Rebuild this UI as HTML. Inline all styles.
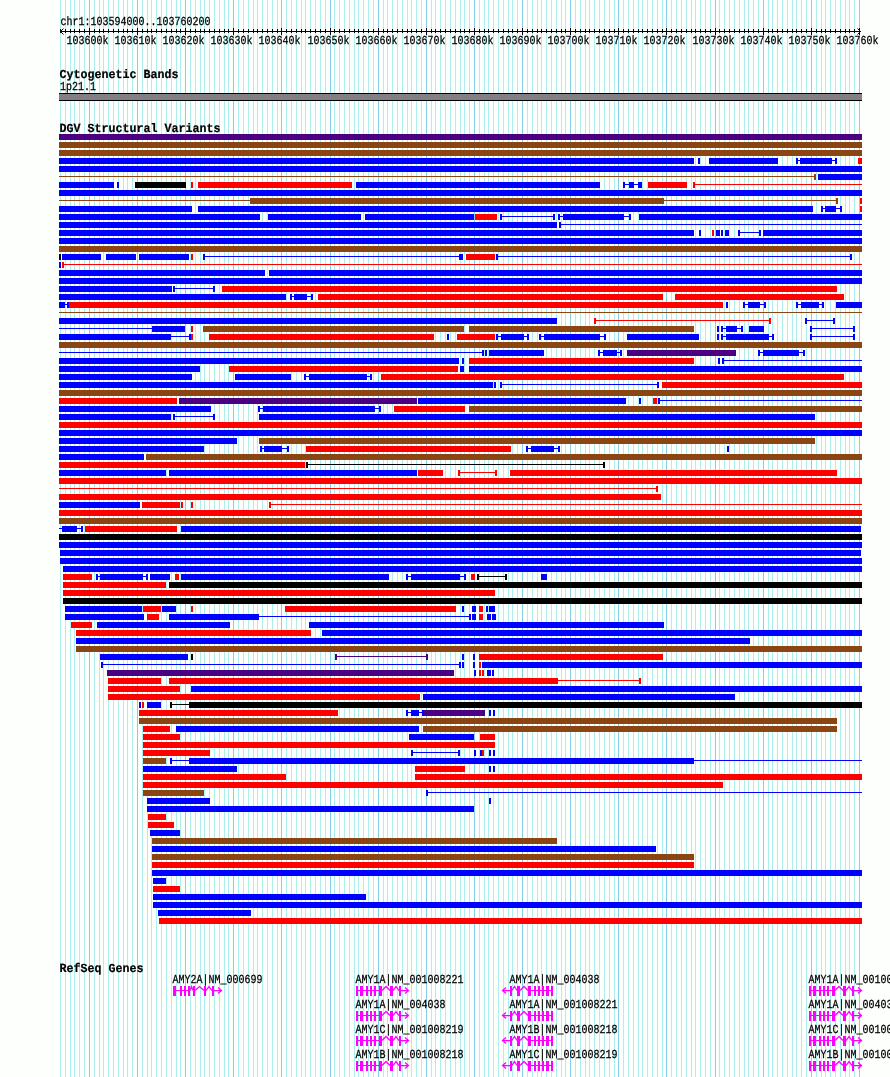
<!DOCTYPE html><html><head><meta charset="utf-8"><title>chr1:103594000..103760200</title>
<style>html,body{margin:0;padding:0;background:#fdfffd}svg{display:block}text{text-rendering:geometricPrecision}.s{font-family:"Liberation Mono",monospace;font-size:10px;fill:#000;stroke:#000;stroke-width:0.22px}.t{font-family:"Liberation Mono",monospace;font-size:11.67px;font-weight:bold;fill:#000;stroke:#000;stroke-width:0.2px}</style></head><body>
<svg width="890" height="1077" viewBox="0 0 890 1077" shape-rendering="crispEdges">
<rect width="890" height="1077" fill="#fdfffd"/>
<g><rect x="60" y="0" width="1" height="1077" fill="#afeeee"/><rect x="65" y="0" width="1" height="1077" fill="#afeeee"/><rect x="70" y="0" width="1" height="1077" fill="#afeeee"/><rect x="74" y="0" width="1" height="1077" fill="#afeeee"/><rect x="79" y="0" width="1" height="1077" fill="#afeeee"/><rect x="84" y="0" width="1" height="1077" fill="#afeeee"/><rect x="89" y="0" width="1" height="1077" fill="#87ceeb"/><rect x="94" y="0" width="1" height="1077" fill="#afeeee"/><rect x="99" y="0" width="1" height="1077" fill="#afeeee"/><rect x="103" y="0" width="1" height="1077" fill="#afeeee"/><rect x="108" y="0" width="1" height="1077" fill="#afeeee"/><rect x="113" y="0" width="1" height="1077" fill="#afeeee"/><rect x="118" y="0" width="1" height="1077" fill="#afeeee"/><rect x="123" y="0" width="1" height="1077" fill="#afeeee"/><rect x="127" y="0" width="1" height="1077" fill="#afeeee"/><rect x="132" y="0" width="1" height="1077" fill="#afeeee"/><rect x="137" y="0" width="1" height="1077" fill="#87ceeb"/><rect x="142" y="0" width="1" height="1077" fill="#afeeee"/><rect x="147" y="0" width="1" height="1077" fill="#afeeee"/><rect x="151" y="0" width="1" height="1077" fill="#afeeee"/><rect x="156" y="0" width="1" height="1077" fill="#afeeee"/><rect x="161" y="0" width="1" height="1077" fill="#afeeee"/><rect x="166" y="0" width="1" height="1077" fill="#afeeee"/><rect x="171" y="0" width="1" height="1077" fill="#afeeee"/><rect x="176" y="0" width="1" height="1077" fill="#afeeee"/><rect x="180" y="0" width="1" height="1077" fill="#afeeee"/><rect x="185" y="0" width="1" height="1077" fill="#87ceeb"/><rect x="190" y="0" width="1" height="1077" fill="#afeeee"/><rect x="195" y="0" width="1" height="1077" fill="#afeeee"/><rect x="200" y="0" width="1" height="1077" fill="#afeeee"/><rect x="204" y="0" width="1" height="1077" fill="#afeeee"/><rect x="209" y="0" width="1" height="1077" fill="#afeeee"/><rect x="214" y="0" width="1" height="1077" fill="#afeeee"/><rect x="219" y="0" width="1" height="1077" fill="#afeeee"/><rect x="224" y="0" width="1" height="1077" fill="#afeeee"/><rect x="228" y="0" width="1" height="1077" fill="#afeeee"/><rect x="233" y="0" width="1" height="1077" fill="#87ceeb"/><rect x="238" y="0" width="1" height="1077" fill="#afeeee"/><rect x="243" y="0" width="1" height="1077" fill="#afeeee"/><rect x="248" y="0" width="1" height="1077" fill="#afeeee"/><rect x="253" y="0" width="1" height="1077" fill="#afeeee"/><rect x="257" y="0" width="1" height="1077" fill="#afeeee"/><rect x="262" y="0" width="1" height="1077" fill="#afeeee"/><rect x="267" y="0" width="1" height="1077" fill="#afeeee"/><rect x="272" y="0" width="1" height="1077" fill="#afeeee"/><rect x="277" y="0" width="1" height="1077" fill="#afeeee"/><rect x="281" y="0" width="1" height="1077" fill="#87ceeb"/><rect x="286" y="0" width="1" height="1077" fill="#afeeee"/><rect x="291" y="0" width="1" height="1077" fill="#afeeee"/><rect x="296" y="0" width="1" height="1077" fill="#afeeee"/><rect x="301" y="0" width="1" height="1077" fill="#afeeee"/><rect x="305" y="0" width="1" height="1077" fill="#afeeee"/><rect x="310" y="0" width="1" height="1077" fill="#afeeee"/><rect x="315" y="0" width="1" height="1077" fill="#afeeee"/><rect x="320" y="0" width="1" height="1077" fill="#afeeee"/><rect x="325" y="0" width="1" height="1077" fill="#afeeee"/><rect x="330" y="0" width="1" height="1077" fill="#87ceeb"/><rect x="334" y="0" width="1" height="1077" fill="#afeeee"/><rect x="339" y="0" width="1" height="1077" fill="#afeeee"/><rect x="344" y="0" width="1" height="1077" fill="#afeeee"/><rect x="349" y="0" width="1" height="1077" fill="#afeeee"/><rect x="354" y="0" width="1" height="1077" fill="#afeeee"/><rect x="358" y="0" width="1" height="1077" fill="#afeeee"/><rect x="363" y="0" width="1" height="1077" fill="#afeeee"/><rect x="368" y="0" width="1" height="1077" fill="#afeeee"/><rect x="373" y="0" width="1" height="1077" fill="#afeeee"/><rect x="378" y="0" width="1" height="1077" fill="#87ceeb"/><rect x="383" y="0" width="1" height="1077" fill="#afeeee"/><rect x="387" y="0" width="1" height="1077" fill="#afeeee"/><rect x="392" y="0" width="1" height="1077" fill="#afeeee"/><rect x="397" y="0" width="1" height="1077" fill="#afeeee"/><rect x="402" y="0" width="1" height="1077" fill="#afeeee"/><rect x="407" y="0" width="1" height="1077" fill="#afeeee"/><rect x="411" y="0" width="1" height="1077" fill="#afeeee"/><rect x="416" y="0" width="1" height="1077" fill="#afeeee"/><rect x="421" y="0" width="1" height="1077" fill="#afeeee"/><rect x="426" y="0" width="1" height="1077" fill="#87ceeb"/><rect x="431" y="0" width="1" height="1077" fill="#afeeee"/><rect x="435" y="0" width="1" height="1077" fill="#afeeee"/><rect x="440" y="0" width="1" height="1077" fill="#afeeee"/><rect x="445" y="0" width="1" height="1077" fill="#afeeee"/><rect x="450" y="0" width="1" height="1077" fill="#afeeee"/><rect x="455" y="0" width="1" height="1077" fill="#afeeee"/><rect x="460" y="0" width="1" height="1077" fill="#afeeee"/><rect x="464" y="0" width="1" height="1077" fill="#afeeee"/><rect x="469" y="0" width="1" height="1077" fill="#afeeee"/><rect x="474" y="0" width="1" height="1077" fill="#87ceeb"/><rect x="479" y="0" width="1" height="1077" fill="#afeeee"/><rect x="484" y="0" width="1" height="1077" fill="#afeeee"/><rect x="488" y="0" width="1" height="1077" fill="#afeeee"/><rect x="493" y="0" width="1" height="1077" fill="#afeeee"/><rect x="498" y="0" width="1" height="1077" fill="#afeeee"/><rect x="503" y="0" width="1" height="1077" fill="#afeeee"/><rect x="508" y="0" width="1" height="1077" fill="#afeeee"/><rect x="512" y="0" width="1" height="1077" fill="#afeeee"/><rect x="517" y="0" width="1" height="1077" fill="#afeeee"/><rect x="522" y="0" width="1" height="1077" fill="#87ceeb"/><rect x="527" y="0" width="1" height="1077" fill="#afeeee"/><rect x="532" y="0" width="1" height="1077" fill="#afeeee"/><rect x="537" y="0" width="1" height="1077" fill="#afeeee"/><rect x="541" y="0" width="1" height="1077" fill="#afeeee"/><rect x="546" y="0" width="1" height="1077" fill="#afeeee"/><rect x="551" y="0" width="1" height="1077" fill="#afeeee"/><rect x="556" y="0" width="1" height="1077" fill="#afeeee"/><rect x="561" y="0" width="1" height="1077" fill="#afeeee"/><rect x="565" y="0" width="1" height="1077" fill="#afeeee"/><rect x="570" y="0" width="1" height="1077" fill="#87ceeb"/><rect x="575" y="0" width="1" height="1077" fill="#afeeee"/><rect x="580" y="0" width="1" height="1077" fill="#afeeee"/><rect x="585" y="0" width="1" height="1077" fill="#afeeee"/><rect x="589" y="0" width="1" height="1077" fill="#afeeee"/><rect x="594" y="0" width="1" height="1077" fill="#afeeee"/><rect x="599" y="0" width="1" height="1077" fill="#afeeee"/><rect x="604" y="0" width="1" height="1077" fill="#afeeee"/><rect x="609" y="0" width="1" height="1077" fill="#afeeee"/><rect x="614" y="0" width="1" height="1077" fill="#afeeee"/><rect x="618" y="0" width="1" height="1077" fill="#87ceeb"/><rect x="623" y="0" width="1" height="1077" fill="#afeeee"/><rect x="628" y="0" width="1" height="1077" fill="#afeeee"/><rect x="633" y="0" width="1" height="1077" fill="#afeeee"/><rect x="638" y="0" width="1" height="1077" fill="#afeeee"/><rect x="642" y="0" width="1" height="1077" fill="#afeeee"/><rect x="647" y="0" width="1" height="1077" fill="#afeeee"/><rect x="652" y="0" width="1" height="1077" fill="#afeeee"/><rect x="657" y="0" width="1" height="1077" fill="#afeeee"/><rect x="662" y="0" width="1" height="1077" fill="#afeeee"/><rect x="666" y="0" width="1" height="1077" fill="#87ceeb"/><rect x="671" y="0" width="1" height="1077" fill="#afeeee"/><rect x="676" y="0" width="1" height="1077" fill="#afeeee"/><rect x="681" y="0" width="1" height="1077" fill="#afeeee"/><rect x="686" y="0" width="1" height="1077" fill="#afeeee"/><rect x="691" y="0" width="1" height="1077" fill="#afeeee"/><rect x="695" y="0" width="1" height="1077" fill="#afeeee"/><rect x="700" y="0" width="1" height="1077" fill="#afeeee"/><rect x="705" y="0" width="1" height="1077" fill="#afeeee"/><rect x="710" y="0" width="1" height="1077" fill="#afeeee"/><rect x="715" y="0" width="1" height="1077" fill="#87ceeb"/><rect x="719" y="0" width="1" height="1077" fill="#afeeee"/><rect x="724" y="0" width="1" height="1077" fill="#afeeee"/><rect x="729" y="0" width="1" height="1077" fill="#afeeee"/><rect x="734" y="0" width="1" height="1077" fill="#afeeee"/><rect x="739" y="0" width="1" height="1077" fill="#afeeee"/><rect x="744" y="0" width="1" height="1077" fill="#afeeee"/><rect x="748" y="0" width="1" height="1077" fill="#afeeee"/><rect x="753" y="0" width="1" height="1077" fill="#afeeee"/><rect x="758" y="0" width="1" height="1077" fill="#afeeee"/><rect x="763" y="0" width="1" height="1077" fill="#87ceeb"/><rect x="768" y="0" width="1" height="1077" fill="#afeeee"/><rect x="772" y="0" width="1" height="1077" fill="#afeeee"/><rect x="777" y="0" width="1" height="1077" fill="#afeeee"/><rect x="782" y="0" width="1" height="1077" fill="#afeeee"/><rect x="787" y="0" width="1" height="1077" fill="#afeeee"/><rect x="792" y="0" width="1" height="1077" fill="#afeeee"/><rect x="796" y="0" width="1" height="1077" fill="#afeeee"/><rect x="801" y="0" width="1" height="1077" fill="#afeeee"/><rect x="806" y="0" width="1" height="1077" fill="#afeeee"/><rect x="811" y="0" width="1" height="1077" fill="#87ceeb"/><rect x="816" y="0" width="1" height="1077" fill="#afeeee"/><rect x="821" y="0" width="1" height="1077" fill="#afeeee"/><rect x="825" y="0" width="1" height="1077" fill="#afeeee"/><rect x="830" y="0" width="1" height="1077" fill="#afeeee"/><rect x="835" y="0" width="1" height="1077" fill="#afeeee"/><rect x="840" y="0" width="1" height="1077" fill="#afeeee"/><rect x="845" y="0" width="1" height="1077" fill="#afeeee"/><rect x="849" y="0" width="1" height="1077" fill="#afeeee"/><rect x="854" y="0" width="1" height="1077" fill="#afeeee"/><rect x="859" y="0" width="1" height="1077" fill="#87ceeb"/></g>
<g fill="#000">
<rect x="60" y="31" width="801" height="1"/>
<rect x="60" y="29" width="1" height="4"/>
<rect x="65" y="29" width="1" height="4"/>
<rect x="70" y="29" width="1" height="4"/>
<rect x="74" y="29" width="1" height="4"/>
<rect x="79" y="29" width="1" height="4"/>
<rect x="84" y="29" width="1" height="4"/>
<rect x="89" y="28" width="1" height="7"/>
<rect x="94" y="29" width="1" height="4"/>
<rect x="99" y="29" width="1" height="4"/>
<rect x="103" y="29" width="1" height="4"/>
<rect x="108" y="29" width="1" height="4"/>
<rect x="113" y="29" width="1" height="4"/>
<rect x="118" y="29" width="1" height="4"/>
<rect x="123" y="29" width="1" height="4"/>
<rect x="127" y="29" width="1" height="4"/>
<rect x="132" y="29" width="1" height="4"/>
<rect x="137" y="28" width="1" height="7"/>
<rect x="142" y="29" width="1" height="4"/>
<rect x="147" y="29" width="1" height="4"/>
<rect x="151" y="29" width="1" height="4"/>
<rect x="156" y="29" width="1" height="4"/>
<rect x="161" y="29" width="1" height="4"/>
<rect x="166" y="29" width="1" height="4"/>
<rect x="171" y="29" width="1" height="4"/>
<rect x="176" y="29" width="1" height="4"/>
<rect x="180" y="29" width="1" height="4"/>
<rect x="185" y="28" width="1" height="7"/>
<rect x="190" y="29" width="1" height="4"/>
<rect x="195" y="29" width="1" height="4"/>
<rect x="200" y="29" width="1" height="4"/>
<rect x="204" y="29" width="1" height="4"/>
<rect x="209" y="29" width="1" height="4"/>
<rect x="214" y="29" width="1" height="4"/>
<rect x="219" y="29" width="1" height="4"/>
<rect x="224" y="29" width="1" height="4"/>
<rect x="228" y="29" width="1" height="4"/>
<rect x="233" y="28" width="1" height="7"/>
<rect x="238" y="29" width="1" height="4"/>
<rect x="243" y="29" width="1" height="4"/>
<rect x="248" y="29" width="1" height="4"/>
<rect x="253" y="29" width="1" height="4"/>
<rect x="257" y="29" width="1" height="4"/>
<rect x="262" y="29" width="1" height="4"/>
<rect x="267" y="29" width="1" height="4"/>
<rect x="272" y="29" width="1" height="4"/>
<rect x="277" y="29" width="1" height="4"/>
<rect x="281" y="28" width="1" height="7"/>
<rect x="286" y="29" width="1" height="4"/>
<rect x="291" y="29" width="1" height="4"/>
<rect x="296" y="29" width="1" height="4"/>
<rect x="301" y="29" width="1" height="4"/>
<rect x="305" y="29" width="1" height="4"/>
<rect x="310" y="29" width="1" height="4"/>
<rect x="315" y="29" width="1" height="4"/>
<rect x="320" y="29" width="1" height="4"/>
<rect x="325" y="29" width="1" height="4"/>
<rect x="330" y="28" width="1" height="7"/>
<rect x="334" y="29" width="1" height="4"/>
<rect x="339" y="29" width="1" height="4"/>
<rect x="344" y="29" width="1" height="4"/>
<rect x="349" y="29" width="1" height="4"/>
<rect x="354" y="29" width="1" height="4"/>
<rect x="358" y="29" width="1" height="4"/>
<rect x="363" y="29" width="1" height="4"/>
<rect x="368" y="29" width="1" height="4"/>
<rect x="373" y="29" width="1" height="4"/>
<rect x="378" y="28" width="1" height="7"/>
<rect x="383" y="29" width="1" height="4"/>
<rect x="387" y="29" width="1" height="4"/>
<rect x="392" y="29" width="1" height="4"/>
<rect x="397" y="29" width="1" height="4"/>
<rect x="402" y="29" width="1" height="4"/>
<rect x="407" y="29" width="1" height="4"/>
<rect x="411" y="29" width="1" height="4"/>
<rect x="416" y="29" width="1" height="4"/>
<rect x="421" y="29" width="1" height="4"/>
<rect x="426" y="28" width="1" height="7"/>
<rect x="431" y="29" width="1" height="4"/>
<rect x="435" y="29" width="1" height="4"/>
<rect x="440" y="29" width="1" height="4"/>
<rect x="445" y="29" width="1" height="4"/>
<rect x="450" y="29" width="1" height="4"/>
<rect x="455" y="29" width="1" height="4"/>
<rect x="460" y="29" width="1" height="4"/>
<rect x="464" y="29" width="1" height="4"/>
<rect x="469" y="29" width="1" height="4"/>
<rect x="474" y="28" width="1" height="7"/>
<rect x="479" y="29" width="1" height="4"/>
<rect x="484" y="29" width="1" height="4"/>
<rect x="488" y="29" width="1" height="4"/>
<rect x="493" y="29" width="1" height="4"/>
<rect x="498" y="29" width="1" height="4"/>
<rect x="503" y="29" width="1" height="4"/>
<rect x="508" y="29" width="1" height="4"/>
<rect x="512" y="29" width="1" height="4"/>
<rect x="517" y="29" width="1" height="4"/>
<rect x="522" y="28" width="1" height="7"/>
<rect x="527" y="29" width="1" height="4"/>
<rect x="532" y="29" width="1" height="4"/>
<rect x="537" y="29" width="1" height="4"/>
<rect x="541" y="29" width="1" height="4"/>
<rect x="546" y="29" width="1" height="4"/>
<rect x="551" y="29" width="1" height="4"/>
<rect x="556" y="29" width="1" height="4"/>
<rect x="561" y="29" width="1" height="4"/>
<rect x="565" y="29" width="1" height="4"/>
<rect x="570" y="28" width="1" height="7"/>
<rect x="575" y="29" width="1" height="4"/>
<rect x="580" y="29" width="1" height="4"/>
<rect x="585" y="29" width="1" height="4"/>
<rect x="589" y="29" width="1" height="4"/>
<rect x="594" y="29" width="1" height="4"/>
<rect x="599" y="29" width="1" height="4"/>
<rect x="604" y="29" width="1" height="4"/>
<rect x="609" y="29" width="1" height="4"/>
<rect x="614" y="29" width="1" height="4"/>
<rect x="618" y="28" width="1" height="7"/>
<rect x="623" y="29" width="1" height="4"/>
<rect x="628" y="29" width="1" height="4"/>
<rect x="633" y="29" width="1" height="4"/>
<rect x="638" y="29" width="1" height="4"/>
<rect x="642" y="29" width="1" height="4"/>
<rect x="647" y="29" width="1" height="4"/>
<rect x="652" y="29" width="1" height="4"/>
<rect x="657" y="29" width="1" height="4"/>
<rect x="662" y="29" width="1" height="4"/>
<rect x="666" y="28" width="1" height="7"/>
<rect x="671" y="29" width="1" height="4"/>
<rect x="676" y="29" width="1" height="4"/>
<rect x="681" y="29" width="1" height="4"/>
<rect x="686" y="29" width="1" height="4"/>
<rect x="691" y="29" width="1" height="4"/>
<rect x="695" y="29" width="1" height="4"/>
<rect x="700" y="29" width="1" height="4"/>
<rect x="705" y="29" width="1" height="4"/>
<rect x="710" y="29" width="1" height="4"/>
<rect x="715" y="28" width="1" height="7"/>
<rect x="719" y="29" width="1" height="4"/>
<rect x="724" y="29" width="1" height="4"/>
<rect x="729" y="29" width="1" height="4"/>
<rect x="734" y="29" width="1" height="4"/>
<rect x="739" y="29" width="1" height="4"/>
<rect x="744" y="29" width="1" height="4"/>
<rect x="748" y="29" width="1" height="4"/>
<rect x="753" y="29" width="1" height="4"/>
<rect x="758" y="29" width="1" height="4"/>
<rect x="763" y="28" width="1" height="7"/>
<rect x="768" y="29" width="1" height="4"/>
<rect x="772" y="29" width="1" height="4"/>
<rect x="777" y="29" width="1" height="4"/>
<rect x="782" y="29" width="1" height="4"/>
<rect x="787" y="29" width="1" height="4"/>
<rect x="792" y="29" width="1" height="4"/>
<rect x="796" y="29" width="1" height="4"/>
<rect x="801" y="29" width="1" height="4"/>
<rect x="806" y="29" width="1" height="4"/>
<rect x="811" y="28" width="1" height="7"/>
<rect x="816" y="29" width="1" height="4"/>
<rect x="821" y="29" width="1" height="4"/>
<rect x="825" y="29" width="1" height="4"/>
<rect x="830" y="29" width="1" height="4"/>
<rect x="835" y="29" width="1" height="4"/>
<rect x="840" y="29" width="1" height="4"/>
<rect x="845" y="29" width="1" height="4"/>
<rect x="849" y="29" width="1" height="4"/>
<rect x="854" y="29" width="1" height="4"/>
<rect x="859" y="28" width="1" height="7"/>
</g>
<g stroke="#000" stroke-width="1" fill="none" shape-rendering="auto"><path d="M63.5 28.5L60.5 31.5L63.5 34.5"/><path d="M857.5 28.5L860.5 31.5L857.5 34.5"/></g>
<text class="s" transform="translate(60.5 25) scale(1 1.22)" xml:space="preserve">chr1:103594000..103760200</text>
<text class="s" transform="translate(66.5 44) scale(1 1.22)" xml:space="preserve">103600k</text>
<text class="s" transform="translate(114.5 44) scale(1 1.22)" xml:space="preserve">103610k</text>
<text class="s" transform="translate(162.5 44) scale(1 1.22)" xml:space="preserve">103620k</text>
<text class="s" transform="translate(210.5 44) scale(1 1.22)" xml:space="preserve">103630k</text>
<text class="s" transform="translate(258.5 44) scale(1 1.22)" xml:space="preserve">103640k</text>
<text class="s" transform="translate(307.5 44) scale(1 1.22)" xml:space="preserve">103650k</text>
<text class="s" transform="translate(355.5 44) scale(1 1.22)" xml:space="preserve">103660k</text>
<text class="s" transform="translate(403.5 44) scale(1 1.22)" xml:space="preserve">103670k</text>
<text class="s" transform="translate(451.5 44) scale(1 1.22)" xml:space="preserve">103680k</text>
<text class="s" transform="translate(499.5 44) scale(1 1.22)" xml:space="preserve">103690k</text>
<text class="s" transform="translate(547.5 44) scale(1 1.22)" xml:space="preserve">103700k</text>
<text class="s" transform="translate(595.5 44) scale(1 1.22)" xml:space="preserve">103710k</text>
<text class="s" transform="translate(643.5 44) scale(1 1.22)" xml:space="preserve">103720k</text>
<text class="s" transform="translate(692.5 44) scale(1 1.22)" xml:space="preserve">103730k</text>
<text class="s" transform="translate(740.5 44) scale(1 1.22)" xml:space="preserve">103740k</text>
<text class="s" transform="translate(788.5 44) scale(1 1.22)" xml:space="preserve">103750k</text>
<text class="s" transform="translate(836.5 44) scale(1 1.22)" xml:space="preserve">103760k</text>
<text class="t" transform="translate(59.5 78) scale(1 1.06)" xml:space="preserve">Cytogenetic Bands</text>
<text class="s" transform="translate(60.0 90) scale(1 1.22)" xml:space="preserve">1p21.1</text>
<rect x="59" y="93" width="803" height="8" fill="#000"/><rect x="59" y="94" width="803" height="6" fill="#828082"/>
<text class="t" transform="translate(59.5 132) scale(1 1.06)" xml:space="preserve">DGV Structural Variants</text>
<rect x="59" y="134" width="803" height="6" fill="#4b0082"/>
<rect x="59" y="142" width="803" height="6" fill="#8b4513"/>
<rect x="59" y="150" width="803" height="6" fill="#8b4513"/>
<rect x="798" y="160" width="38" height="1" fill="#0000ff"/>
<rect x="59" y="158" width="635" height="6" fill="#0000ff"/>
<rect x="698" y="158" width="2" height="6" fill="#0000ff"/>
<rect x="709" y="158" width="69" height="6" fill="#0000ff"/>
<rect x="796" y="158" width="2" height="6" fill="#0000ff"/>
<rect x="800" y="158" width="32" height="6" fill="#0000ff"/>
<rect x="835" y="158" width="2" height="6" fill="#0000ff"/>
<rect x="858" y="158" width="4" height="6" fill="#ff0000"/>
<rect x="59" y="166" width="803" height="6" fill="#0000ff"/>
<rect x="59" y="176" width="756" height="1" fill="#8b4513"/>
<rect x="814" y="174" width="2" height="6" fill="#8b4513"/>
<rect x="818" y="174" width="44" height="6" fill="#0000ff"/>
<rect x="624" y="184" width="16" height="1" fill="#0000ff"/>
<rect x="694" y="184" width="168" height="1" fill="#ff0000"/>
<rect x="59" y="182" width="55" height="6" fill="#0000ff"/>
<rect x="117" y="182" width="2" height="6" fill="#0000ff"/>
<rect x="135" y="182" width="51" height="6" fill="#000000"/>
<rect x="191" y="182" width="2" height="6" fill="#ff0000"/>
<rect x="198" y="182" width="154" height="6" fill="#ff0000"/>
<rect x="356" y="182" width="244" height="6" fill="#0000ff"/>
<rect x="623" y="182" width="2" height="6" fill="#0000ff"/>
<rect x="629" y="182" width="5" height="6" fill="#0000ff"/>
<rect x="638" y="182" width="4" height="6" fill="#0000ff"/>
<rect x="648" y="182" width="39" height="6" fill="#ff0000"/>
<rect x="693" y="182" width="2" height="6" fill="#ff0000"/>
<rect x="59" y="190" width="803" height="6" fill="#0000ff"/>
<rect x="59" y="200" width="191" height="1" fill="#8b4513"/>
<rect x="664" y="200" width="173" height="1" fill="#8b4513"/>
<rect x="250" y="198" width="414" height="6" fill="#8b4513"/>
<rect x="836" y="198" width="2" height="6" fill="#8b4513"/>
<rect x="860" y="198" width="2" height="6" fill="#ff0000"/>
<rect x="822" y="208" width="19" height="1" fill="#0000ff"/>
<rect x="59" y="206" width="133" height="6" fill="#0000ff"/>
<rect x="198" y="206" width="615" height="6" fill="#0000ff"/>
<rect x="821" y="206" width="2" height="6" fill="#0000ff"/>
<rect x="825" y="206" width="11" height="6" fill="#0000ff"/>
<rect x="840" y="206" width="2" height="6" fill="#0000ff"/>
<rect x="860" y="206" width="2" height="6" fill="#ff0000"/>
<rect x="501" y="216" width="53" height="1" fill="#0000ff"/>
<rect x="559" y="216" width="71" height="1" fill="#0000ff"/>
<rect x="59" y="214" width="201" height="6" fill="#0000ff"/>
<rect x="268" y="214" width="93" height="6" fill="#0000ff"/>
<rect x="365" y="214" width="109" height="6" fill="#0000ff"/>
<rect x="475" y="214" width="22" height="6" fill="#ff0000"/>
<rect x="500" y="214" width="2" height="6" fill="#0000ff"/>
<rect x="553" y="214" width="2" height="6" fill="#0000ff"/>
<rect x="558" y="214" width="2" height="6" fill="#0000ff"/>
<rect x="563" y="214" width="61" height="6" fill="#0000ff"/>
<rect x="629" y="214" width="2" height="6" fill="#0000ff"/>
<rect x="639" y="214" width="223" height="6" fill="#0000ff"/>
<rect x="560" y="224" width="302" height="1" fill="#0000ff"/>
<rect x="59" y="222" width="498" height="6" fill="#0000ff"/>
<rect x="559" y="222" width="2" height="6" fill="#0000ff"/>
<rect x="739" y="232" width="21" height="1" fill="#0000ff"/>
<rect x="59" y="230" width="635" height="6" fill="#0000ff"/>
<rect x="699" y="230" width="2" height="6" fill="#0000ff"/>
<rect x="712" y="230" width="2" height="6" fill="#ff0000"/>
<rect x="716" y="230" width="4" height="6" fill="#0000ff"/>
<rect x="721" y="230" width="2" height="6" fill="#0000ff"/>
<rect x="725" y="230" width="4" height="6" fill="#0000ff"/>
<rect x="738" y="230" width="2" height="6" fill="#0000ff"/>
<rect x="759" y="230" width="2" height="6" fill="#0000ff"/>
<rect x="763" y="230" width="99" height="6" fill="#0000ff"/>
<rect x="59" y="238" width="803" height="6" fill="#0000ff"/>
<rect x="59" y="246" width="803" height="6" fill="#8b4513"/>
<rect x="204" y="256" width="256" height="1" fill="#0000ff"/>
<rect x="497" y="256" width="354" height="1" fill="#0000ff"/>
<rect x="59" y="254" width="2" height="6" fill="#000000"/>
<rect x="62" y="254" width="39" height="6" fill="#0000ff"/>
<rect x="106" y="254" width="30" height="6" fill="#0000ff"/>
<rect x="139" y="254" width="50" height="6" fill="#0000ff"/>
<rect x="191" y="254" width="2" height="6" fill="#ff0000"/>
<rect x="203" y="254" width="2" height="6" fill="#0000ff"/>
<rect x="459" y="254" width="4" height="6" fill="#0000ff"/>
<rect x="466" y="254" width="29" height="6" fill="#ff0000"/>
<rect x="496" y="254" width="2" height="6" fill="#0000ff"/>
<rect x="850" y="254" width="2" height="6" fill="#0000ff"/>
<rect x="63" y="264" width="799" height="1" fill="#ff0000"/>
<rect x="59" y="262" width="2" height="6" fill="#0000ff"/>
<rect x="62" y="262" width="2" height="6" fill="#ff0000"/>
<rect x="59" y="270" width="206" height="6" fill="#0000ff"/>
<rect x="269" y="270" width="593" height="6" fill="#0000ff"/>
<rect x="59" y="278" width="803" height="6" fill="#0000ff"/>
<rect x="174" y="288" width="40" height="1" fill="#0000ff"/>
<rect x="59" y="286" width="113" height="6" fill="#0000ff"/>
<rect x="173" y="286" width="2" height="6" fill="#0000ff"/>
<rect x="213" y="286" width="2" height="6" fill="#0000ff"/>
<rect x="222" y="286" width="615" height="6" fill="#ff0000"/>
<rect x="291" y="296" width="21" height="1" fill="#0000ff"/>
<rect x="59" y="294" width="227" height="6" fill="#0000ff"/>
<rect x="290" y="294" width="2" height="6" fill="#0000ff"/>
<rect x="294" y="294" width="13" height="6" fill="#0000ff"/>
<rect x="311" y="294" width="2" height="6" fill="#0000ff"/>
<rect x="318" y="294" width="345" height="6" fill="#ff0000"/>
<rect x="675" y="294" width="169" height="6" fill="#ff0000"/>
<rect x="65" y="304" width="3" height="1" fill="#0000ff"/>
<rect x="744" y="304" width="21" height="1" fill="#0000ff"/>
<rect x="797" y="304" width="26" height="1" fill="#0000ff"/>
<rect x="59" y="302" width="6" height="6" fill="#0000ff"/>
<rect x="67" y="302" width="2" height="6" fill="#0000ff"/>
<rect x="69" y="302" width="654" height="6" fill="#ff0000"/>
<rect x="726" y="302" width="2" height="6" fill="#0000ff"/>
<rect x="743" y="302" width="2" height="6" fill="#0000ff"/>
<rect x="748" y="302" width="12" height="6" fill="#0000ff"/>
<rect x="764" y="302" width="2" height="6" fill="#0000ff"/>
<rect x="796" y="302" width="2" height="6" fill="#0000ff"/>
<rect x="801" y="302" width="18" height="6" fill="#0000ff"/>
<rect x="822" y="302" width="2" height="6" fill="#0000ff"/>
<rect x="836" y="302" width="26" height="6" fill="#0000ff"/>
<rect x="59" y="312" width="803" height="1" fill="#8b4513"/>
<rect x="595" y="320" width="175" height="1" fill="#ff0000"/>
<rect x="806" y="320" width="28" height="1" fill="#0000ff"/>
<rect x="59" y="318" width="498" height="6" fill="#0000ff"/>
<rect x="594" y="318" width="2" height="6" fill="#ff0000"/>
<rect x="769" y="318" width="2" height="6" fill="#ff0000"/>
<rect x="805" y="318" width="2" height="6" fill="#0000ff"/>
<rect x="833" y="318" width="2" height="6" fill="#0000ff"/>
<rect x="59" y="328" width="93" height="1" fill="#0000ff"/>
<rect x="722" y="328" width="20" height="1" fill="#0000ff"/>
<rect x="811" y="328" width="43" height="1" fill="#0000ff"/>
<rect x="152" y="326" width="33" height="6" fill="#0000ff"/>
<rect x="191" y="326" width="2" height="6" fill="#ff0000"/>
<rect x="203" y="326" width="261" height="6" fill="#8b4513"/>
<rect x="469" y="326" width="225" height="6" fill="#8b4513"/>
<rect x="717" y="326" width="2" height="6" fill="#0000ff"/>
<rect x="721" y="326" width="2" height="6" fill="#0000ff"/>
<rect x="726" y="326" width="11" height="6" fill="#0000ff"/>
<rect x="741" y="326" width="2" height="6" fill="#0000ff"/>
<rect x="749" y="326" width="15" height="6" fill="#0000ff"/>
<rect x="810" y="326" width="2" height="6" fill="#0000ff"/>
<rect x="853" y="326" width="2" height="6" fill="#0000ff"/>
<rect x="171" y="336" width="19" height="1" fill="#0000ff"/>
<rect x="497" y="336" width="31" height="1" fill="#0000ff"/>
<rect x="540" y="336" width="65" height="1" fill="#0000ff"/>
<rect x="722" y="336" width="51" height="1" fill="#0000ff"/>
<rect x="811" y="336" width="43" height="1" fill="#0000ff"/>
<rect x="59" y="334" width="112" height="6" fill="#0000ff"/>
<rect x="189" y="334" width="2" height="6" fill="#0000ff"/>
<rect x="191" y="334" width="2" height="6" fill="#ff0000"/>
<rect x="209" y="334" width="225" height="6" fill="#ff0000"/>
<rect x="447" y="334" width="2" height="6" fill="#0000ff"/>
<rect x="457" y="334" width="38" height="6" fill="#ff0000"/>
<rect x="496" y="334" width="2" height="6" fill="#0000ff"/>
<rect x="501" y="334" width="23" height="6" fill="#0000ff"/>
<rect x="527" y="334" width="2" height="6" fill="#0000ff"/>
<rect x="539" y="334" width="2" height="6" fill="#0000ff"/>
<rect x="544" y="334" width="56" height="6" fill="#0000ff"/>
<rect x="604" y="334" width="2" height="6" fill="#0000ff"/>
<rect x="627" y="334" width="72" height="6" fill="#0000ff"/>
<rect x="717" y="334" width="2" height="6" fill="#0000ff"/>
<rect x="721" y="334" width="2" height="6" fill="#0000ff"/>
<rect x="726" y="334" width="43" height="6" fill="#0000ff"/>
<rect x="772" y="334" width="2" height="6" fill="#0000ff"/>
<rect x="810" y="334" width="2" height="6" fill="#0000ff"/>
<rect x="853" y="334" width="2" height="6" fill="#0000ff"/>
<rect x="59" y="342" width="803" height="6" fill="#8b4513"/>
<rect x="59" y="352" width="424" height="1" fill="#0000ff"/>
<rect x="599" y="352" width="22" height="1" fill="#0000ff"/>
<rect x="759" y="352" width="45" height="1" fill="#0000ff"/>
<rect x="482" y="350" width="2" height="6" fill="#0000ff"/>
<rect x="485" y="350" width="2" height="6" fill="#0000ff"/>
<rect x="489" y="350" width="55" height="6" fill="#0000ff"/>
<rect x="598" y="350" width="2" height="6" fill="#0000ff"/>
<rect x="603" y="350" width="14" height="6" fill="#0000ff"/>
<rect x="620" y="350" width="2" height="6" fill="#0000ff"/>
<rect x="627" y="350" width="109" height="6" fill="#4b0082"/>
<rect x="758" y="350" width="2" height="6" fill="#0000ff"/>
<rect x="763" y="350" width="36" height="6" fill="#0000ff"/>
<rect x="803" y="350" width="2" height="6" fill="#0000ff"/>
<rect x="723" y="360" width="139" height="1" fill="#0000ff"/>
<rect x="59" y="358" width="400" height="6" fill="#0000ff"/>
<rect x="462" y="358" width="2" height="6" fill="#0000ff"/>
<rect x="469" y="358" width="225" height="6" fill="#ff0000"/>
<rect x="718" y="358" width="2" height="6" fill="#0000ff"/>
<rect x="722" y="358" width="2" height="6" fill="#0000ff"/>
<rect x="59" y="366" width="141" height="6" fill="#0000ff"/>
<rect x="229" y="366" width="229" height="6" fill="#ff0000"/>
<rect x="460" y="366" width="4" height="6" fill="#0000ff"/>
<rect x="469" y="366" width="393" height="6" fill="#0000ff"/>
<rect x="305" y="376" width="66" height="1" fill="#0000ff"/>
<rect x="59" y="374" width="133" height="6" fill="#0000ff"/>
<rect x="235" y="374" width="56" height="6" fill="#0000ff"/>
<rect x="304" y="374" width="2" height="6" fill="#0000ff"/>
<rect x="309" y="374" width="58" height="6" fill="#0000ff"/>
<rect x="370" y="374" width="2" height="6" fill="#0000ff"/>
<rect x="381" y="374" width="463" height="6" fill="#ff0000"/>
<rect x="501" y="384" width="157" height="1" fill="#0000ff"/>
<rect x="59" y="382" width="434" height="6" fill="#0000ff"/>
<rect x="494" y="382" width="2" height="6" fill="#0000ff"/>
<rect x="500" y="382" width="2" height="6" fill="#0000ff"/>
<rect x="657" y="382" width="2" height="6" fill="#0000ff"/>
<rect x="662" y="382" width="200" height="6" fill="#ff0000"/>
<rect x="59" y="390" width="803" height="6" fill="#8b4513"/>
<rect x="659" y="400" width="203" height="1" fill="#0000ff"/>
<rect x="59" y="398" width="118" height="6" fill="#ff0000"/>
<rect x="179" y="398" width="238" height="6" fill="#4b0082"/>
<rect x="418" y="398" width="208" height="6" fill="#0000ff"/>
<rect x="639" y="398" width="2" height="6" fill="#0000ff"/>
<rect x="653" y="398" width="4" height="6" fill="#ff0000"/>
<rect x="658" y="398" width="2" height="6" fill="#0000ff"/>
<rect x="259" y="408" width="121" height="1" fill="#0000ff"/>
<rect x="59" y="406" width="152" height="6" fill="#0000ff"/>
<rect x="258" y="406" width="2" height="6" fill="#0000ff"/>
<rect x="263" y="406" width="112" height="6" fill="#0000ff"/>
<rect x="379" y="406" width="2" height="6" fill="#0000ff"/>
<rect x="394" y="406" width="71" height="6" fill="#ff0000"/>
<rect x="469" y="406" width="393" height="6" fill="#8b4513"/>
<rect x="174" y="416" width="40" height="1" fill="#0000ff"/>
<rect x="59" y="414" width="112" height="6" fill="#0000ff"/>
<rect x="173" y="414" width="2" height="6" fill="#0000ff"/>
<rect x="213" y="414" width="2" height="6" fill="#0000ff"/>
<rect x="259" y="414" width="556" height="6" fill="#0000ff"/>
<rect x="59" y="422" width="803" height="6" fill="#ff0000"/>
<rect x="59" y="430" width="803" height="6" fill="#0000ff"/>
<rect x="59" y="438" width="178" height="6" fill="#0000ff"/>
<rect x="259" y="438" width="556" height="6" fill="#8b4513"/>
<rect x="261" y="448" width="27" height="1" fill="#0000ff"/>
<rect x="527" y="448" width="32" height="1" fill="#0000ff"/>
<rect x="59" y="446" width="145" height="6" fill="#0000ff"/>
<rect x="260" y="446" width="2" height="6" fill="#0000ff"/>
<rect x="264" y="446" width="18" height="6" fill="#0000ff"/>
<rect x="287" y="446" width="2" height="6" fill="#0000ff"/>
<rect x="306" y="446" width="205" height="6" fill="#ff0000"/>
<rect x="526" y="446" width="2" height="6" fill="#0000ff"/>
<rect x="531" y="446" width="23" height="6" fill="#0000ff"/>
<rect x="558" y="446" width="2" height="6" fill="#0000ff"/>
<rect x="727" y="446" width="2" height="6" fill="#0000ff"/>
<rect x="59" y="454" width="85" height="6" fill="#0000ff"/>
<rect x="146" y="454" width="716" height="6" fill="#8b4513"/>
<rect x="307" y="464" width="297" height="1" fill="#000000"/>
<rect x="59" y="462" width="246" height="6" fill="#ff0000"/>
<rect x="306" y="462" width="2" height="6" fill="#000000"/>
<rect x="603" y="462" width="2" height="6" fill="#000000"/>
<rect x="459" y="472" width="37" height="1" fill="#ff0000"/>
<rect x="59" y="470" width="107" height="6" fill="#0000ff"/>
<rect x="169" y="470" width="248" height="6" fill="#0000ff"/>
<rect x="418" y="470" width="25" height="6" fill="#ff0000"/>
<rect x="458" y="470" width="2" height="6" fill="#ff0000"/>
<rect x="495" y="470" width="2" height="6" fill="#ff0000"/>
<rect x="510" y="470" width="327" height="6" fill="#ff0000"/>
<rect x="59" y="478" width="803" height="6" fill="#ff0000"/>
<rect x="59" y="488" width="598" height="1" fill="#ff0000"/>
<rect x="656" y="486" width="2" height="6" fill="#ff0000"/>
<rect x="59" y="494" width="602" height="6" fill="#ff0000"/>
<rect x="270" y="504" width="592" height="1" fill="#ff0000"/>
<rect x="59" y="502" width="81" height="6" fill="#0000ff"/>
<rect x="142" y="502" width="38" height="6" fill="#ff0000"/>
<rect x="181" y="502" width="2" height="6" fill="#ff0000"/>
<rect x="191" y="502" width="2" height="6" fill="#ff0000"/>
<rect x="269" y="502" width="2" height="6" fill="#ff0000"/>
<rect x="59" y="510" width="803" height="6" fill="#ff0000"/>
<rect x="59" y="518" width="803" height="6" fill="#8b4513"/>
<rect x="59" y="528" width="23" height="1" fill="#0000ff"/>
<rect x="62" y="526" width="15" height="6" fill="#0000ff"/>
<rect x="81" y="526" width="2" height="6" fill="#0000ff"/>
<rect x="85" y="526" width="92" height="6" fill="#ff0000"/>
<rect x="181" y="526" width="680" height="6" fill="#0000ff"/>
<rect x="59" y="534" width="803" height="6" fill="#000000"/>
<rect x="59" y="542" width="803" height="6" fill="#0000ff"/>
<rect x="60" y="550" width="801" height="6" fill="#0000ff"/>
<rect x="60" y="558" width="802" height="6" fill="#0000ff"/>
<rect x="63" y="566" width="799" height="6" fill="#0000ff"/>
<rect x="97" y="576" width="50" height="1" fill="#0000ff"/>
<rect x="407" y="576" width="58" height="1" fill="#0000ff"/>
<rect x="478" y="576" width="28" height="1" fill="#000000"/>
<rect x="63" y="574" width="29" height="6" fill="#ff0000"/>
<rect x="96" y="574" width="2" height="6" fill="#0000ff"/>
<rect x="100" y="574" width="43" height="6" fill="#0000ff"/>
<rect x="146" y="574" width="2" height="6" fill="#0000ff"/>
<rect x="150" y="574" width="20" height="6" fill="#0000ff"/>
<rect x="175" y="574" width="4" height="6" fill="#ff0000"/>
<rect x="181" y="574" width="208" height="6" fill="#0000ff"/>
<rect x="406" y="574" width="2" height="6" fill="#0000ff"/>
<rect x="411" y="574" width="49" height="6" fill="#0000ff"/>
<rect x="464" y="574" width="2" height="6" fill="#0000ff"/>
<rect x="471" y="574" width="4" height="6" fill="#ff0000"/>
<rect x="477" y="574" width="2" height="6" fill="#000000"/>
<rect x="505" y="574" width="2" height="6" fill="#000000"/>
<rect x="541" y="574" width="6" height="6" fill="#0000ff"/>
<rect x="63" y="582" width="103" height="6" fill="#ff0000"/>
<rect x="169" y="582" width="693" height="6" fill="#000000"/>
<rect x="63" y="590" width="432" height="6" fill="#ff0000"/>
<rect x="63" y="598" width="799" height="6" fill="#000000"/>
<rect x="65" y="606" width="77" height="6" fill="#0000ff"/>
<rect x="143" y="606" width="18" height="6" fill="#ff0000"/>
<rect x="162" y="606" width="14" height="6" fill="#0000ff"/>
<rect x="191" y="606" width="2" height="6" fill="#ff0000"/>
<rect x="285" y="606" width="171" height="6" fill="#ff0000"/>
<rect x="462" y="606" width="2" height="6" fill="#0000ff"/>
<rect x="472" y="606" width="4" height="6" fill="#0000ff"/>
<rect x="479" y="606" width="4" height="6" fill="#ff0000"/>
<rect x="486" y="606" width="2" height="6" fill="#0000ff"/>
<rect x="489" y="606" width="6" height="6" fill="#0000ff"/>
<rect x="259" y="616" width="211" height="1" fill="#0000ff"/>
<rect x="65" y="614" width="79" height="6" fill="#0000ff"/>
<rect x="147" y="614" width="12" height="6" fill="#ff0000"/>
<rect x="169" y="614" width="90" height="6" fill="#0000ff"/>
<rect x="469" y="614" width="2" height="6" fill="#0000ff"/>
<rect x="472" y="614" width="4" height="6" fill="#0000ff"/>
<rect x="479" y="614" width="4" height="6" fill="#ff0000"/>
<rect x="487" y="614" width="4" height="6" fill="#0000ff"/>
<rect x="492" y="614" width="4" height="6" fill="#0000ff"/>
<rect x="71" y="622" width="21" height="6" fill="#ff0000"/>
<rect x="97" y="622" width="133" height="6" fill="#0000ff"/>
<rect x="309" y="622" width="355" height="6" fill="#0000ff"/>
<rect x="76" y="630" width="235" height="6" fill="#ff0000"/>
<rect x="322" y="630" width="540" height="6" fill="#0000ff"/>
<rect x="76" y="638" width="674" height="6" fill="#0000ff"/>
<rect x="76" y="646" width="786" height="6" fill="#8b4513"/>
<rect x="336" y="656" width="91" height="1" fill="#4b0082"/>
<rect x="100" y="654" width="88" height="6" fill="#0000ff"/>
<rect x="191" y="654" width="2" height="6" fill="#000000"/>
<rect x="335" y="654" width="2" height="6" fill="#4b0082"/>
<rect x="426" y="654" width="2" height="6" fill="#4b0082"/>
<rect x="462" y="654" width="2" height="6" fill="#0000ff"/>
<rect x="473" y="654" width="2" height="6" fill="#0000ff"/>
<rect x="479" y="654" width="184" height="6" fill="#ff0000"/>
<rect x="102" y="664" width="358" height="1" fill="#0000ff"/>
<rect x="101" y="662" width="2" height="6" fill="#0000ff"/>
<rect x="459" y="662" width="2" height="6" fill="#0000ff"/>
<rect x="462" y="662" width="2" height="6" fill="#0000ff"/>
<rect x="473" y="662" width="2" height="6" fill="#0000ff"/>
<rect x="479" y="662" width="2" height="6" fill="#ff0000"/>
<rect x="482" y="662" width="380" height="6" fill="#0000ff"/>
<rect x="107" y="670" width="347" height="6" fill="#4b0082"/>
<rect x="474" y="670" width="2" height="6" fill="#0000ff"/>
<rect x="479" y="670" width="2" height="6" fill="#ff0000"/>
<rect x="482" y="670" width="2" height="6" fill="#ff0000"/>
<rect x="487" y="670" width="4" height="6" fill="#0000ff"/>
<rect x="492" y="670" width="2" height="6" fill="#0000ff"/>
<rect x="558" y="680" width="82" height="1" fill="#ff0000"/>
<rect x="108" y="678" width="53" height="6" fill="#ff0000"/>
<rect x="169" y="678" width="389" height="6" fill="#ff0000"/>
<rect x="639" y="678" width="2" height="6" fill="#ff0000"/>
<rect x="108" y="686" width="72" height="6" fill="#ff0000"/>
<rect x="191" y="686" width="671" height="6" fill="#0000ff"/>
<rect x="108" y="694" width="312" height="6" fill="#ff0000"/>
<rect x="423" y="694" width="312" height="6" fill="#0000ff"/>
<rect x="171" y="704" width="18" height="1" fill="#000000"/>
<rect x="139" y="702" width="2" height="6" fill="#0000ff"/>
<rect x="142" y="702" width="2" height="6" fill="#ff0000"/>
<rect x="147" y="702" width="14" height="6" fill="#0000ff"/>
<rect x="170" y="702" width="2" height="6" fill="#000000"/>
<rect x="189" y="702" width="673" height="6" fill="#000000"/>
<rect x="407" y="712" width="17" height="1" fill="#0000ff"/>
<rect x="139" y="710" width="199" height="6" fill="#ff0000"/>
<rect x="406" y="710" width="2" height="6" fill="#0000ff"/>
<rect x="411" y="710" width="8" height="6" fill="#0000ff"/>
<rect x="422" y="710" width="2" height="6" fill="#0000ff"/>
<rect x="424" y="710" width="61" height="6" fill="#4b0082"/>
<rect x="489" y="710" width="2" height="6" fill="#0000ff"/>
<rect x="493" y="710" width="2" height="6" fill="#0000ff"/>
<rect x="139" y="718" width="698" height="6" fill="#8b4513"/>
<rect x="143" y="726" width="27" height="6" fill="#ff0000"/>
<rect x="176" y="726" width="243" height="6" fill="#0000ff"/>
<rect x="423" y="726" width="414" height="6" fill="#8b4513"/>
<rect x="143" y="734" width="37" height="6" fill="#ff0000"/>
<rect x="409" y="734" width="65" height="6" fill="#0000ff"/>
<rect x="480" y="734" width="15" height="6" fill="#ff0000"/>
<rect x="143" y="742" width="352" height="6" fill="#ff0000"/>
<rect x="412" y="752" width="47" height="1" fill="#0000ff"/>
<rect x="143" y="750" width="67" height="6" fill="#ff0000"/>
<rect x="411" y="750" width="2" height="6" fill="#0000ff"/>
<rect x="458" y="750" width="2" height="6" fill="#0000ff"/>
<rect x="474" y="750" width="2" height="6" fill="#0000ff"/>
<rect x="480" y="750" width="2" height="6" fill="#0000ff"/>
<rect x="482" y="750" width="2" height="6" fill="#ff0000"/>
<rect x="489" y="750" width="2" height="6" fill="#0000ff"/>
<rect x="493" y="750" width="2" height="6" fill="#0000ff"/>
<rect x="171" y="760" width="18" height="1" fill="#0000ff"/>
<rect x="694" y="760" width="168" height="1" fill="#0000ff"/>
<rect x="143" y="758" width="23" height="6" fill="#8b4513"/>
<rect x="170" y="758" width="2" height="6" fill="#0000ff"/>
<rect x="189" y="758" width="505" height="6" fill="#0000ff"/>
<rect x="143" y="766" width="94" height="6" fill="#0000ff"/>
<rect x="415" y="766" width="50" height="6" fill="#ff0000"/>
<rect x="489" y="766" width="2" height="6" fill="#0000ff"/>
<rect x="493" y="766" width="2" height="6" fill="#0000ff"/>
<rect x="143" y="774" width="143" height="6" fill="#ff0000"/>
<rect x="415" y="774" width="447" height="6" fill="#ff0000"/>
<rect x="143" y="782" width="580" height="6" fill="#ff0000"/>
<rect x="427" y="792" width="435" height="1" fill="#0000ff"/>
<rect x="143" y="790" width="61" height="6" fill="#8b4513"/>
<rect x="426" y="790" width="2" height="6" fill="#0000ff"/>
<rect x="147" y="798" width="63" height="6" fill="#0000ff"/>
<rect x="489" y="798" width="2" height="6" fill="#0000ff"/>
<rect x="147" y="806" width="327" height="6" fill="#0000ff"/>
<rect x="148" y="814" width="18" height="6" fill="#ff0000"/>
<rect x="148" y="822" width="26" height="6" fill="#ff0000"/>
<rect x="150" y="830" width="30" height="6" fill="#0000ff"/>
<rect x="152" y="838" width="405" height="6" fill="#8b4513"/>
<rect x="152" y="846" width="504" height="6" fill="#0000ff"/>
<rect x="152" y="854" width="542" height="6" fill="#8b4513"/>
<rect x="152" y="862" width="542" height="6" fill="#ff0000"/>
<rect x="152" y="870" width="710" height="6" fill="#0000ff"/>
<rect x="153" y="878" width="13" height="6" fill="#0000ff"/>
<rect x="153" y="886" width="27" height="6" fill="#ff0000"/>
<rect x="153" y="894" width="213" height="6" fill="#0000ff"/>
<rect x="153" y="902" width="709" height="6" fill="#0000ff"/>
<rect x="158" y="910" width="93" height="6" fill="#0000ff"/>
<rect x="159" y="918" width="703" height="6" fill="#ff0000"/>
<text class="t" transform="translate(59.5 972) scale(1 1.06)" xml:space="preserve">RefSeq Genes</text>
<text class="s" transform="translate(172.5 983) scale(1 1.22)" xml:space="preserve">AMY2A|NM_000699</text>
<rect x="173" y="990" width="16" height="1" fill="#ff00ff"/>
<rect x="173" y="986" width="3" height="10" fill="#ff00ff"/>
<rect x="180" y="986" width="2" height="10" fill="#ff00ff"/>
<rect x="184" y="986" width="2" height="10" fill="#ff00ff"/>
<rect x="188" y="986" width="2" height="10" fill="#ff00ff"/>
<rect x="193" y="986" width="2" height="10" fill="#ff00ff"/>
<rect x="204" y="986" width="2" height="10" fill="#ff00ff"/>
<rect x="212" y="986" width="2" height="10" fill="#ff00ff"/>
<g stroke="#ff00ff" stroke-width="1.25" fill="none" shape-rendering="auto"><path d="M190 990.5L191.5 986.5L193 990.5M195 990.5L199.5 986.5L204 990.5M206 990.5L209 986.5L212 990.5M214 990.5L221.5 990.5M218 987.5L221.5 990.5L218 993.5"/></g>
<text class="s" transform="translate(355.5 983) scale(1 1.22)" xml:space="preserve">AMY1A|NM_001008221</text>
<rect x="356" y="990" width="26" height="1" fill="#ff00ff"/>
<rect x="356" y="986" width="2" height="10" fill="#ff00ff"/>
<rect x="360" y="986" width="3" height="10" fill="#ff00ff"/>
<rect x="366" y="986" width="2" height="10" fill="#ff00ff"/>
<rect x="370" y="986" width="2" height="10" fill="#ff00ff"/>
<rect x="374" y="986" width="2" height="10" fill="#ff00ff"/>
<rect x="379" y="986" width="3" height="10" fill="#ff00ff"/>
<rect x="390" y="986" width="3" height="10" fill="#ff00ff"/>
<rect x="399" y="986" width="2" height="10" fill="#ff00ff"/>
<g stroke="#ff00ff" stroke-width="1.25" fill="none" shape-rendering="auto"><path d="M382 990.5L386 986.5L390 990.5M393 990.5L396 986.5L399 990.5M401 990.5L408.5 990.5M405 987.5L408.5 990.5L405 993.5"/></g>
<text class="s" transform="translate(808.5 983) scale(1 1.22)" xml:space="preserve">AMY1A|NM_001008221</text>
<rect x="809" y="990" width="26" height="1" fill="#ff00ff"/>
<rect x="809" y="986" width="2" height="10" fill="#ff00ff"/>
<rect x="813" y="986" width="3" height="10" fill="#ff00ff"/>
<rect x="819" y="986" width="2" height="10" fill="#ff00ff"/>
<rect x="823" y="986" width="2" height="10" fill="#ff00ff"/>
<rect x="827" y="986" width="2" height="10" fill="#ff00ff"/>
<rect x="832" y="986" width="3" height="10" fill="#ff00ff"/>
<rect x="843" y="986" width="3" height="10" fill="#ff00ff"/>
<rect x="852" y="986" width="2" height="10" fill="#ff00ff"/>
<g stroke="#ff00ff" stroke-width="1.25" fill="none" shape-rendering="auto"><path d="M835 990.5L839 986.5L843 990.5M846 990.5L849 986.5L852 990.5M854 990.5L861.5 990.5M858 987.5L861.5 990.5L858 993.5"/></g>
<text class="s" transform="translate(355.5 1008) scale(1 1.22)" xml:space="preserve">AMY1A|NM_004038</text>
<rect x="356" y="1015" width="26" height="1" fill="#ff00ff"/>
<rect x="356" y="1011" width="2" height="10" fill="#ff00ff"/>
<rect x="360" y="1011" width="3" height="10" fill="#ff00ff"/>
<rect x="366" y="1011" width="2" height="10" fill="#ff00ff"/>
<rect x="370" y="1011" width="2" height="10" fill="#ff00ff"/>
<rect x="374" y="1011" width="2" height="10" fill="#ff00ff"/>
<rect x="379" y="1011" width="3" height="10" fill="#ff00ff"/>
<rect x="390" y="1011" width="3" height="10" fill="#ff00ff"/>
<rect x="399" y="1011" width="2" height="10" fill="#ff00ff"/>
<g stroke="#ff00ff" stroke-width="1.25" fill="none" shape-rendering="auto"><path d="M382 1015.5L386 1011.5L390 1015.5M393 1015.5L396 1011.5L399 1015.5M401 1015.5L408.5 1015.5M405 1012.5L408.5 1015.5L405 1018.5"/></g>
<text class="s" transform="translate(808.5 1008) scale(1 1.22)" xml:space="preserve">AMY1A|NM_004038</text>
<rect x="809" y="1015" width="26" height="1" fill="#ff00ff"/>
<rect x="809" y="1011" width="2" height="10" fill="#ff00ff"/>
<rect x="813" y="1011" width="3" height="10" fill="#ff00ff"/>
<rect x="819" y="1011" width="2" height="10" fill="#ff00ff"/>
<rect x="823" y="1011" width="2" height="10" fill="#ff00ff"/>
<rect x="827" y="1011" width="2" height="10" fill="#ff00ff"/>
<rect x="832" y="1011" width="3" height="10" fill="#ff00ff"/>
<rect x="843" y="1011" width="3" height="10" fill="#ff00ff"/>
<rect x="852" y="1011" width="2" height="10" fill="#ff00ff"/>
<g stroke="#ff00ff" stroke-width="1.25" fill="none" shape-rendering="auto"><path d="M835 1015.5L839 1011.5L843 1015.5M846 1015.5L849 1011.5L852 1015.5M854 1015.5L861.5 1015.5M858 1012.5L861.5 1015.5L858 1018.5"/></g>
<text class="s" transform="translate(355.5 1033) scale(1 1.22)" xml:space="preserve">AMY1C|NM_001008219</text>
<rect x="356" y="1040" width="26" height="1" fill="#ff00ff"/>
<rect x="356" y="1036" width="2" height="10" fill="#ff00ff"/>
<rect x="360" y="1036" width="3" height="10" fill="#ff00ff"/>
<rect x="366" y="1036" width="2" height="10" fill="#ff00ff"/>
<rect x="370" y="1036" width="2" height="10" fill="#ff00ff"/>
<rect x="374" y="1036" width="2" height="10" fill="#ff00ff"/>
<rect x="379" y="1036" width="3" height="10" fill="#ff00ff"/>
<rect x="390" y="1036" width="3" height="10" fill="#ff00ff"/>
<rect x="399" y="1036" width="2" height="10" fill="#ff00ff"/>
<g stroke="#ff00ff" stroke-width="1.25" fill="none" shape-rendering="auto"><path d="M382 1040.5L386 1036.5L390 1040.5M393 1040.5L396 1036.5L399 1040.5M401 1040.5L408.5 1040.5M405 1037.5L408.5 1040.5L405 1043.5"/></g>
<text class="s" transform="translate(808.5 1033) scale(1 1.22)" xml:space="preserve">AMY1C|NM_001008219</text>
<rect x="809" y="1040" width="26" height="1" fill="#ff00ff"/>
<rect x="809" y="1036" width="2" height="10" fill="#ff00ff"/>
<rect x="813" y="1036" width="3" height="10" fill="#ff00ff"/>
<rect x="819" y="1036" width="2" height="10" fill="#ff00ff"/>
<rect x="823" y="1036" width="2" height="10" fill="#ff00ff"/>
<rect x="827" y="1036" width="2" height="10" fill="#ff00ff"/>
<rect x="832" y="1036" width="3" height="10" fill="#ff00ff"/>
<rect x="843" y="1036" width="3" height="10" fill="#ff00ff"/>
<rect x="852" y="1036" width="2" height="10" fill="#ff00ff"/>
<g stroke="#ff00ff" stroke-width="1.25" fill="none" shape-rendering="auto"><path d="M835 1040.5L839 1036.5L843 1040.5M846 1040.5L849 1036.5L852 1040.5M854 1040.5L861.5 1040.5M858 1037.5L861.5 1040.5L858 1043.5"/></g>
<text class="s" transform="translate(355.5 1058) scale(1 1.22)" xml:space="preserve">AMY1B|NM_001008218</text>
<rect x="356" y="1065" width="26" height="1" fill="#ff00ff"/>
<rect x="356" y="1061" width="2" height="10" fill="#ff00ff"/>
<rect x="360" y="1061" width="3" height="10" fill="#ff00ff"/>
<rect x="366" y="1061" width="2" height="10" fill="#ff00ff"/>
<rect x="370" y="1061" width="2" height="10" fill="#ff00ff"/>
<rect x="374" y="1061" width="2" height="10" fill="#ff00ff"/>
<rect x="379" y="1061" width="3" height="10" fill="#ff00ff"/>
<rect x="390" y="1061" width="3" height="10" fill="#ff00ff"/>
<rect x="399" y="1061" width="2" height="10" fill="#ff00ff"/>
<g stroke="#ff00ff" stroke-width="1.25" fill="none" shape-rendering="auto"><path d="M382 1065.5L386 1061.5L390 1065.5M393 1065.5L396 1061.5L399 1065.5M401 1065.5L408.5 1065.5M405 1062.5L408.5 1065.5L405 1068.5"/></g>
<text class="s" transform="translate(808.5 1058) scale(1 1.22)" xml:space="preserve">AMY1B|NM_001008218</text>
<rect x="809" y="1065" width="26" height="1" fill="#ff00ff"/>
<rect x="809" y="1061" width="2" height="10" fill="#ff00ff"/>
<rect x="813" y="1061" width="3" height="10" fill="#ff00ff"/>
<rect x="819" y="1061" width="2" height="10" fill="#ff00ff"/>
<rect x="823" y="1061" width="2" height="10" fill="#ff00ff"/>
<rect x="827" y="1061" width="2" height="10" fill="#ff00ff"/>
<rect x="832" y="1061" width="3" height="10" fill="#ff00ff"/>
<rect x="843" y="1061" width="3" height="10" fill="#ff00ff"/>
<rect x="852" y="1061" width="2" height="10" fill="#ff00ff"/>
<g stroke="#ff00ff" stroke-width="1.25" fill="none" shape-rendering="auto"><path d="M835 1065.5L839 1061.5L843 1065.5M846 1065.5L849 1061.5L852 1065.5M854 1065.5L861.5 1065.5M858 1062.5L861.5 1065.5L858 1068.5"/></g>
<text class="s" transform="translate(509.5 983) scale(1 1.22)" xml:space="preserve">AMY1A|NM_004038</text>
<rect x="531" y="990" width="22" height="1" fill="#ff00ff"/>
<rect x="510" y="986" width="2" height="10" fill="#ff00ff"/>
<rect x="517" y="986" width="3" height="10" fill="#ff00ff"/>
<rect x="528" y="986" width="3" height="10" fill="#ff00ff"/>
<rect x="534" y="986" width="2" height="10" fill="#ff00ff"/>
<rect x="538" y="986" width="2" height="10" fill="#ff00ff"/>
<rect x="542" y="986" width="2" height="10" fill="#ff00ff"/>
<rect x="546" y="986" width="3" height="10" fill="#ff00ff"/>
<rect x="551" y="986" width="2" height="10" fill="#ff00ff"/>
<g stroke="#ff00ff" stroke-width="1.25" fill="none" shape-rendering="auto"><path d="M512 990.5L514.5 986.5L517 990.5M520 990.5L524 986.5L528 990.5M502.5 990.5L510 990.5M506 987.5L502.5 990.5L506 993.5"/></g>
<text class="s" transform="translate(509.5 1008) scale(1 1.22)" xml:space="preserve">AMY1A|NM_001008221</text>
<rect x="531" y="1015" width="22" height="1" fill="#ff00ff"/>
<rect x="510" y="1011" width="2" height="10" fill="#ff00ff"/>
<rect x="517" y="1011" width="3" height="10" fill="#ff00ff"/>
<rect x="528" y="1011" width="3" height="10" fill="#ff00ff"/>
<rect x="534" y="1011" width="2" height="10" fill="#ff00ff"/>
<rect x="538" y="1011" width="2" height="10" fill="#ff00ff"/>
<rect x="542" y="1011" width="2" height="10" fill="#ff00ff"/>
<rect x="546" y="1011" width="3" height="10" fill="#ff00ff"/>
<rect x="551" y="1011" width="2" height="10" fill="#ff00ff"/>
<g stroke="#ff00ff" stroke-width="1.25" fill="none" shape-rendering="auto"><path d="M512 1015.5L514.5 1011.5L517 1015.5M520 1015.5L524 1011.5L528 1015.5M502.5 1015.5L510 1015.5M506 1012.5L502.5 1015.5L506 1018.5"/></g>
<text class="s" transform="translate(509.5 1033) scale(1 1.22)" xml:space="preserve">AMY1B|NM_001008218</text>
<rect x="531" y="1040" width="22" height="1" fill="#ff00ff"/>
<rect x="510" y="1036" width="2" height="10" fill="#ff00ff"/>
<rect x="517" y="1036" width="3" height="10" fill="#ff00ff"/>
<rect x="528" y="1036" width="3" height="10" fill="#ff00ff"/>
<rect x="534" y="1036" width="2" height="10" fill="#ff00ff"/>
<rect x="538" y="1036" width="2" height="10" fill="#ff00ff"/>
<rect x="542" y="1036" width="2" height="10" fill="#ff00ff"/>
<rect x="546" y="1036" width="3" height="10" fill="#ff00ff"/>
<rect x="551" y="1036" width="2" height="10" fill="#ff00ff"/>
<g stroke="#ff00ff" stroke-width="1.25" fill="none" shape-rendering="auto"><path d="M512 1040.5L514.5 1036.5L517 1040.5M520 1040.5L524 1036.5L528 1040.5M502.5 1040.5L510 1040.5M506 1037.5L502.5 1040.5L506 1043.5"/></g>
<text class="s" transform="translate(509.5 1058) scale(1 1.22)" xml:space="preserve">AMY1C|NM_001008219</text>
<rect x="531" y="1065" width="22" height="1" fill="#ff00ff"/>
<rect x="510" y="1061" width="2" height="10" fill="#ff00ff"/>
<rect x="517" y="1061" width="3" height="10" fill="#ff00ff"/>
<rect x="528" y="1061" width="3" height="10" fill="#ff00ff"/>
<rect x="534" y="1061" width="2" height="10" fill="#ff00ff"/>
<rect x="538" y="1061" width="2" height="10" fill="#ff00ff"/>
<rect x="542" y="1061" width="2" height="10" fill="#ff00ff"/>
<rect x="546" y="1061" width="3" height="10" fill="#ff00ff"/>
<rect x="551" y="1061" width="2" height="10" fill="#ff00ff"/>
<g stroke="#ff00ff" stroke-width="1.25" fill="none" shape-rendering="auto"><path d="M512 1065.5L514.5 1061.5L517 1065.5M520 1065.5L524 1061.5L528 1065.5M502.5 1065.5L510 1065.5M506 1062.5L502.5 1065.5L506 1068.5"/></g>
</svg></body></html>
